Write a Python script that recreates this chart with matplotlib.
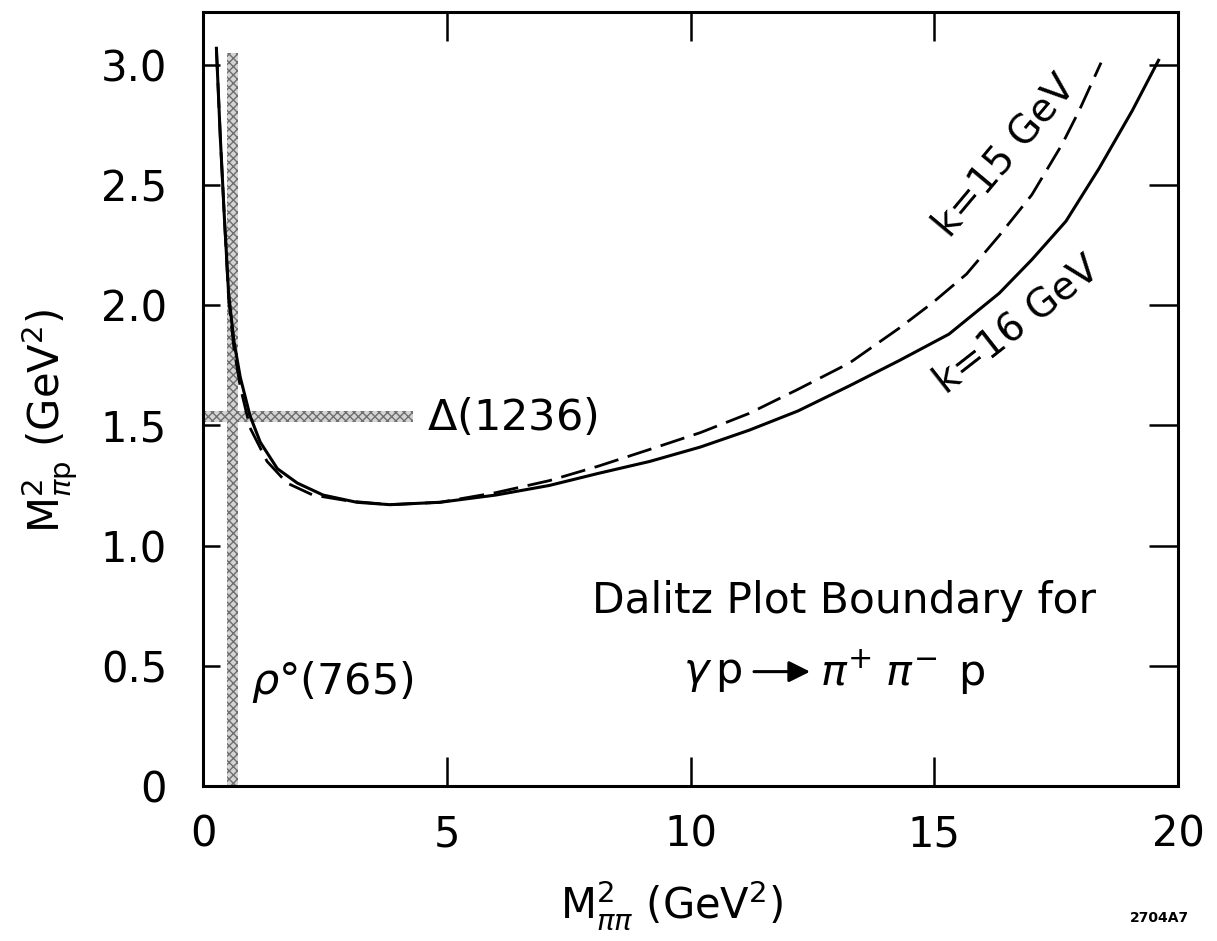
import numpy as np
import matplotlib
matplotlib.use("Agg")
import matplotlib.pyplot as plt

# boundary for k = 16 GeV (solid)
k16_x = [0.27, 0.35, 0.43, 0.52, 0.63, 0.76, 0.96, 1.17, 1.52, 1.93, 2.46,
         3.15, 3.83, 4.86, 6.0, 7.1, 8.1, 9.16, 10.2, 11.2, 12.2, 13.26,
         14.28, 15.3, 16.33, 17.0, 17.7, 18.38, 19.06, 19.6]
k16_y = [3.07, 2.70, 2.38, 2.05, 1.85, 1.70, 1.54, 1.43, 1.32, 1.26, 1.21,
         1.18, 1.17, 1.18, 1.21, 1.25, 1.30, 1.35, 1.41, 1.48, 1.56, 1.665,
         1.77, 1.88, 2.05, 2.19, 2.35, 2.57, 2.81, 3.02]

# boundary for k = 15 GeV (dashed)
k15_x = [0.27, 0.35, 0.43, 0.52, 0.63, 0.76, 0.96, 1.31, 1.72, 2.25, 3.0,
         3.83, 4.86, 6.0, 7.1, 8.1, 9.16, 10.2, 11.2, 12.2, 13.26, 14.28,
         14.96, 15.66, 16.33, 17.0, 17.62, 17.97, 18.42]
k15_y = [3.07, 2.70, 2.38, 2.03, 1.82, 1.66, 1.49, 1.35, 1.26, 1.21, 1.185,
         1.17, 1.18, 1.22, 1.27, 1.33, 1.40, 1.47, 1.55, 1.65, 1.76, 1.905,
         2.01, 2.13, 2.29, 2.46, 2.67, 2.81, 3.01]

# resonance bands
rho_x = [0.49, 0.71]
rho_y = [0.0, 3.05]
delta_x = [0.0, 4.3]
delta_y = [1.515, 1.56]

x_ticks = [0, 5, 10, 15, 20]
x_labels = ["0", "5", "10", "15", "20"]
y_ticks = [0, 0.5, 1.0, 1.5, 2.0, 2.5, 3.0]
y_labels = ["0", "0.5", "1.0", "1.5", "2.0", "2.5", "3.0"]

plt.rcParams['font.family'] = ['DejaVu Sans']
plt.rcParams['mathtext.fontset'] = 'dejavusans'
plt.rcParams['hatch.linewidth'] = 1.0

fig = plt.figure(figsize=(12.17, 9.41), dpi=100)
ax = fig.add_axes([0.167, 0.165, 0.801, 0.822])

# shaded resonance bands
ax.fill_betweenx(rho_y, rho_x[0], rho_x[1], facecolor="#d4d4d4",
                 edgecolor="#6f6f6f", hatch="xxxx", linewidth=0, zorder=1)
ax.fill_between(delta_x, delta_y[0], delta_y[1], facecolor="#d4d4d4",
                edgecolor="#6f6f6f", hatch="xxxx", linewidth=0, zorder=1)

ax.plot(k16_x, k16_y, color="black", lw=2.2, zorder=3,
        solid_joinstyle="round")
ax.plot(k15_x, k15_y, color="black", lw=2.0, dashes=[9, 3.5], zorder=3)

ax.set_xlim(0, 20)
ax.set_ylim(0, 3.22)
ax.set_xticks(x_ticks)
ax.set_xticklabels(x_labels)
ax.set_yticks(y_ticks)
ax.set_yticklabels(y_labels)

for s in ax.spines.values():
    s.set_linewidth(2.2)

ax.tick_params(axis="x", direction="in", length=21, width=1.8, top=True,
               labelsize=30, pad=20)
ax.tick_params(axis="y", direction="in", length=12, width=1.8, right=True,
               labelsize=30, pad=26)
for t in ax.yaxis.get_ticklines()[1::2]:
    t.set_markersize(21)

# annotations
ax.text(4.6, 1.53, r"$\Delta$(1236)", fontsize=31, va="center", ha="left")
ax.text(0.97, 0.43, r"$\rho$°(765)", fontsize=31, va="center", ha="left")
ax.text(13.15, 0.77, "Dalitz Plot Boundary for", fontsize=30.5,
        ha="center", va="center")
# reaction: gamma p -> pi+ pi- p, with a filled arrow like the original
ax.text(9.85, 0.47, r"$\gamma\,$p", fontsize=31, ha="left", va="center")
ax.annotate("", xy=(12.45, 0.475), xytext=(11.3, 0.475),
            arrowprops=dict(arrowstyle="-|>", lw=2.2, color="black",
                            mutation_scale=32, shrinkA=0, shrinkB=0))
ax.text(12.65, 0.47, r"$\pi^{+}\;\pi^{-}\;\,$p", fontsize=31,
        ha="left", va="center")
ax.text(16.45, 2.62, "k=15 GeV", fontsize=28, rotation=50,
        ha="center", va="center", rotation_mode="anchor")
ax.text(16.7, 1.92, "k=16 GeV", fontsize=28, rotation=38,
        ha="center", va="center", rotation_mode="anchor")

fig.text(0.552, 0.038, r"M$^2_{\pi\pi}$ (GeV$^2$)", fontsize=30,
         ha="center", va="center")
fig.text(0.04, 0.553, r"M$^2_{\pi \mathrm{p}}$ (GeV$^2$)", fontsize=30,
         ha="center", va="center", rotation=90)
fig.text(0.953, 0.024, "2704A7", fontsize=10, fontweight="bold",
         ha="center", va="center")

fig.savefig("out.png", dpi=100)
